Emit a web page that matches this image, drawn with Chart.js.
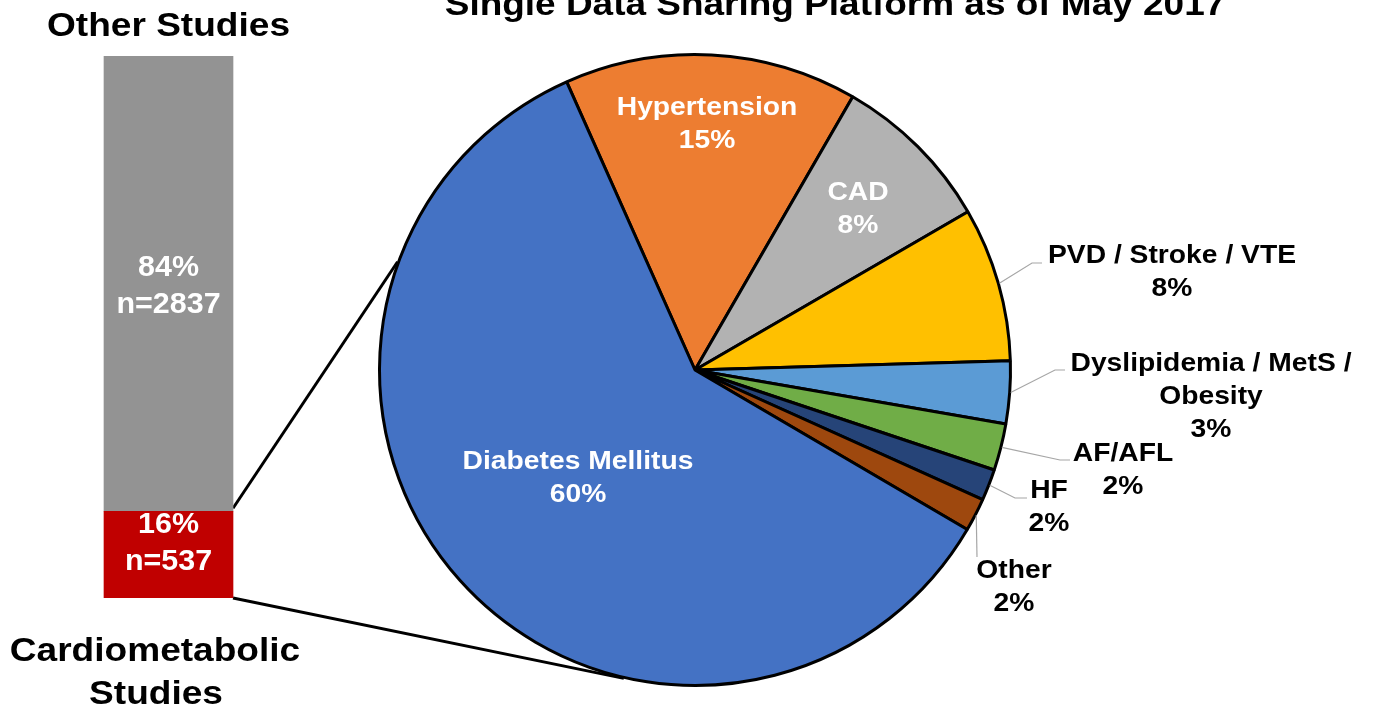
<!DOCTYPE html>
<html>
<head>
<meta charset="utf-8">
<title>Cardiometabolic studies</title>
<script src="https://cdn.jsdelivr.net/npm/chart.js@4.4.1/dist/chart.umd.min.js"></script>
<style>
  html, body { margin: 0; padding: 0; background: #fff; overflow: hidden; }
  #wrap { position: relative; width: 1373px; height: 715px; }
  canvas { position: absolute; left: 0; top: 0; }
</style>
</head>
<body>
<div id="wrap">
  <canvas id="pieChart" width="1373" height="715"></canvas>
  <canvas id="barChart" width="337" height="715"></canvas>
</div>
<script>
// ── DATA ───────────────────────────────────────────────
const chartTitle = "Single Data Sharing Platform as of May 2017";

// left stacked bar (bottom segment first)
const studyGroups = ["Cardiometabolic Studies", "Other Studies"];
const studyPct    = [16, 84];
const studyCounts = [537, 2837];

// pie slices, clockwise from the Hypertension slice
const categories = [
  "Hypertension", "CAD", "PVD / Stroke / VTE", "Dyslipidemia / MetS /\nObesity",
  "AF/AFL", "HF", "Other", "Diabetes Mellitus"
];
const sharePct = [15.0, 8.3, 7.9, 3.2, 2.4, 1.6, 1.7, 59.9];

// ── STYLE ──────────────────────────────────────────────
const FONT = '"Liberation Sans", Arial, sans-serif';
const barColors   = ["#C00000", "#939393"];
const sliceColors = ["#ED7D31", "#B2B2B2", "#FFC000", "#5B9BD5", "#70AD47", "#264478", "#9E480E", "#4472C4"];

// label placement for each slice (cap-middle of first line) + leader elbow points
const sliceLabels = [
  { x: 707,  y: 106, color: "#fff" },
  { x: 858,  y: 191, color: "#fff" },
  { x: 1172, y: 254, color: "#000", leader: [[1032, 263], [1042, 263]] },
  { x: 1211, y: 362, color: "#000", leader: [[1055, 370], [1065, 370]] },
  { x: 1123, y: 452, color: "#000", leader: [[1060, 460], [1070, 460]] },
  { x: 1049, y: 489, color: "#000", leader: [[1015, 498], [1027, 498]] },
  { x: 1014, y: 569, color: "#000", leader: [[977, 557]] },
  { x: 578,  y: 460, color: "#fff" }
];

// text drawn bold and a bit wider than the font, like the original slide
function stretchText(ctx, text, x, y, size, color, sx) {
  ctx.save();
  ctx.font = `bold ${size}px ${FONT}`;
  ctx.fillStyle = color;
  ctx.textAlign = "center";
  ctx.textBaseline = "alphabetic";
  ctx.translate(x, y + size * 0.36);
  ctx.scale(sx, 1);
  ctx.fillText(text, 0, 0);
  ctx.restore();
}

// ── BAR (left) ─────────────────────────────────────────
const barLabelPlugin = {
  id: "barLabels",
  afterDatasetsDraw(chart) {
    const ctx = chart.ctx;
    const shift = [-14, 0];
    chart.data.datasets.forEach((ds, i) => {
      const el = chart.getDatasetMeta(i).data[0];
      const cy = (el.y + el.base) / 2 + shift[i];
      stretchText(ctx, studyPct[i] + "%", el.x, cy - 18.5, 29, "#fff", 1.05);
      stretchText(ctx, "n=" + studyCounts[i], el.x, cy + 18.5, 29, "#fff", 1.05);
    });
    const top = chart.getDatasetMeta(1).data[0];
    stretchText(ctx, studyGroups[1], top.x, 24, 34, "#000", 1.09);
    const words = studyGroups[0].split(" ");
    stretchText(ctx, words[0], 155, 649, 34, "#000", 1.09);
    stretchText(ctx, words[1], 156, 692, 34, "#000", 1.09);
  }
};

const barChart = new Chart(document.getElementById("barChart"), {
  type: "bar",
  data: {
    labels: ["Studies"],
    datasets: studyGroups.map((g, i) => ({
      label: g,
      data: [studyPct[i]],
      backgroundColor: barColors[i],
      barThickness: 129,
      borderWidth: 0
    }))
  },
  options: {
    responsive: false,
    animation: false,
    events: [],
    layout: { padding: { top: 56, bottom: 117, left: 0, right: 0 } },
    plugins: { legend: { display: false }, tooltip: { enabled: false } },
    scales: {
      x: { stacked: true, display: false },
      y: { stacked: true, display: false, min: 0, max: 100 }
    }
  },
  plugins: [barLabelPlugin]
});

// ── PIE (right) ────────────────────────────────────────
const pieLabelPlugin = {
  id: "pieLabels",
  afterDatasetsDraw(chart) {
    const ctx = chart.ctx;
    const arcs = chart.getDatasetMeta(0).data;
    const cx = arcs[0].x, cy = arcs[0].y, r = arcs[0].outerRadius + 1;

    // zoom lines from the red bar to the pie
    const red = barChart.getDatasetMeta(0).data[0];
    const right = red.x + red.width / 2;
    const ends = [[red.y - 3, 200], [red.base, 103]];
    ctx.save();
    ctx.strokeStyle = "#000";
    ctx.lineWidth = 3;
    ends.forEach(([y0, deg]) => {
      const a = deg * Math.PI / 180;
      ctx.beginPath();
      ctx.moveTo(right, y0);
      ctx.lineTo(cx + r * Math.cos(a), cy + r * Math.sin(a));
      ctx.stroke();
    });
    ctx.restore();

    // leader lines for outside labels
    ctx.save();
    ctx.strokeStyle = "#A6A6A6";
    ctx.lineWidth = 1.2;
    arcs.forEach((arc, i) => {
      const lab = sliceLabels[i];
      if (!lab.leader) return;
      const mid = (arc.startAngle + arc.endAngle) / 2;
      ctx.beginPath();
      ctx.moveTo(cx + r * Math.cos(mid), cy + r * Math.sin(mid));
      lab.leader.forEach(p => ctx.lineTo(p[0], p[1]));
      ctx.stroke();
    });
    ctx.restore();

    // slice labels
    categories.forEach((name, i) => {
      const lab = sliceLabels[i];
      const lines = name.split("\n").concat(Math.round(sharePct[i]) + "%");
      lines.forEach((t, k) => stretchText(ctx, t, lab.x, lab.y + k * 33, 25, lab.color, 1.13));
    });

    // title, cut by the top edge as in the source
    stretchText(ctx, chartTitle, 835, 3, 33, "#000", 1.12);
  }
};

new Chart(document.getElementById("pieChart"), {
  type: "pie",
  data: {
    labels: categories,
    datasets: [{
      data: sharePct,
      backgroundColor: sliceColors,
      borderColor: "#000",
      borderWidth: 3,
      hoverOffset: 0
    }]
  },
  options: {
    responsive: false,
    animation: false,
    events: [],
    rotation: -24,
    layout: { padding: { left: 378, right: 361, top: 53, bottom: 28 } },
    plugins: { legend: { display: false }, tooltip: { enabled: false } }
  },
  plugins: [pieLabelPlugin]
});
</script>
</body>
</html>
